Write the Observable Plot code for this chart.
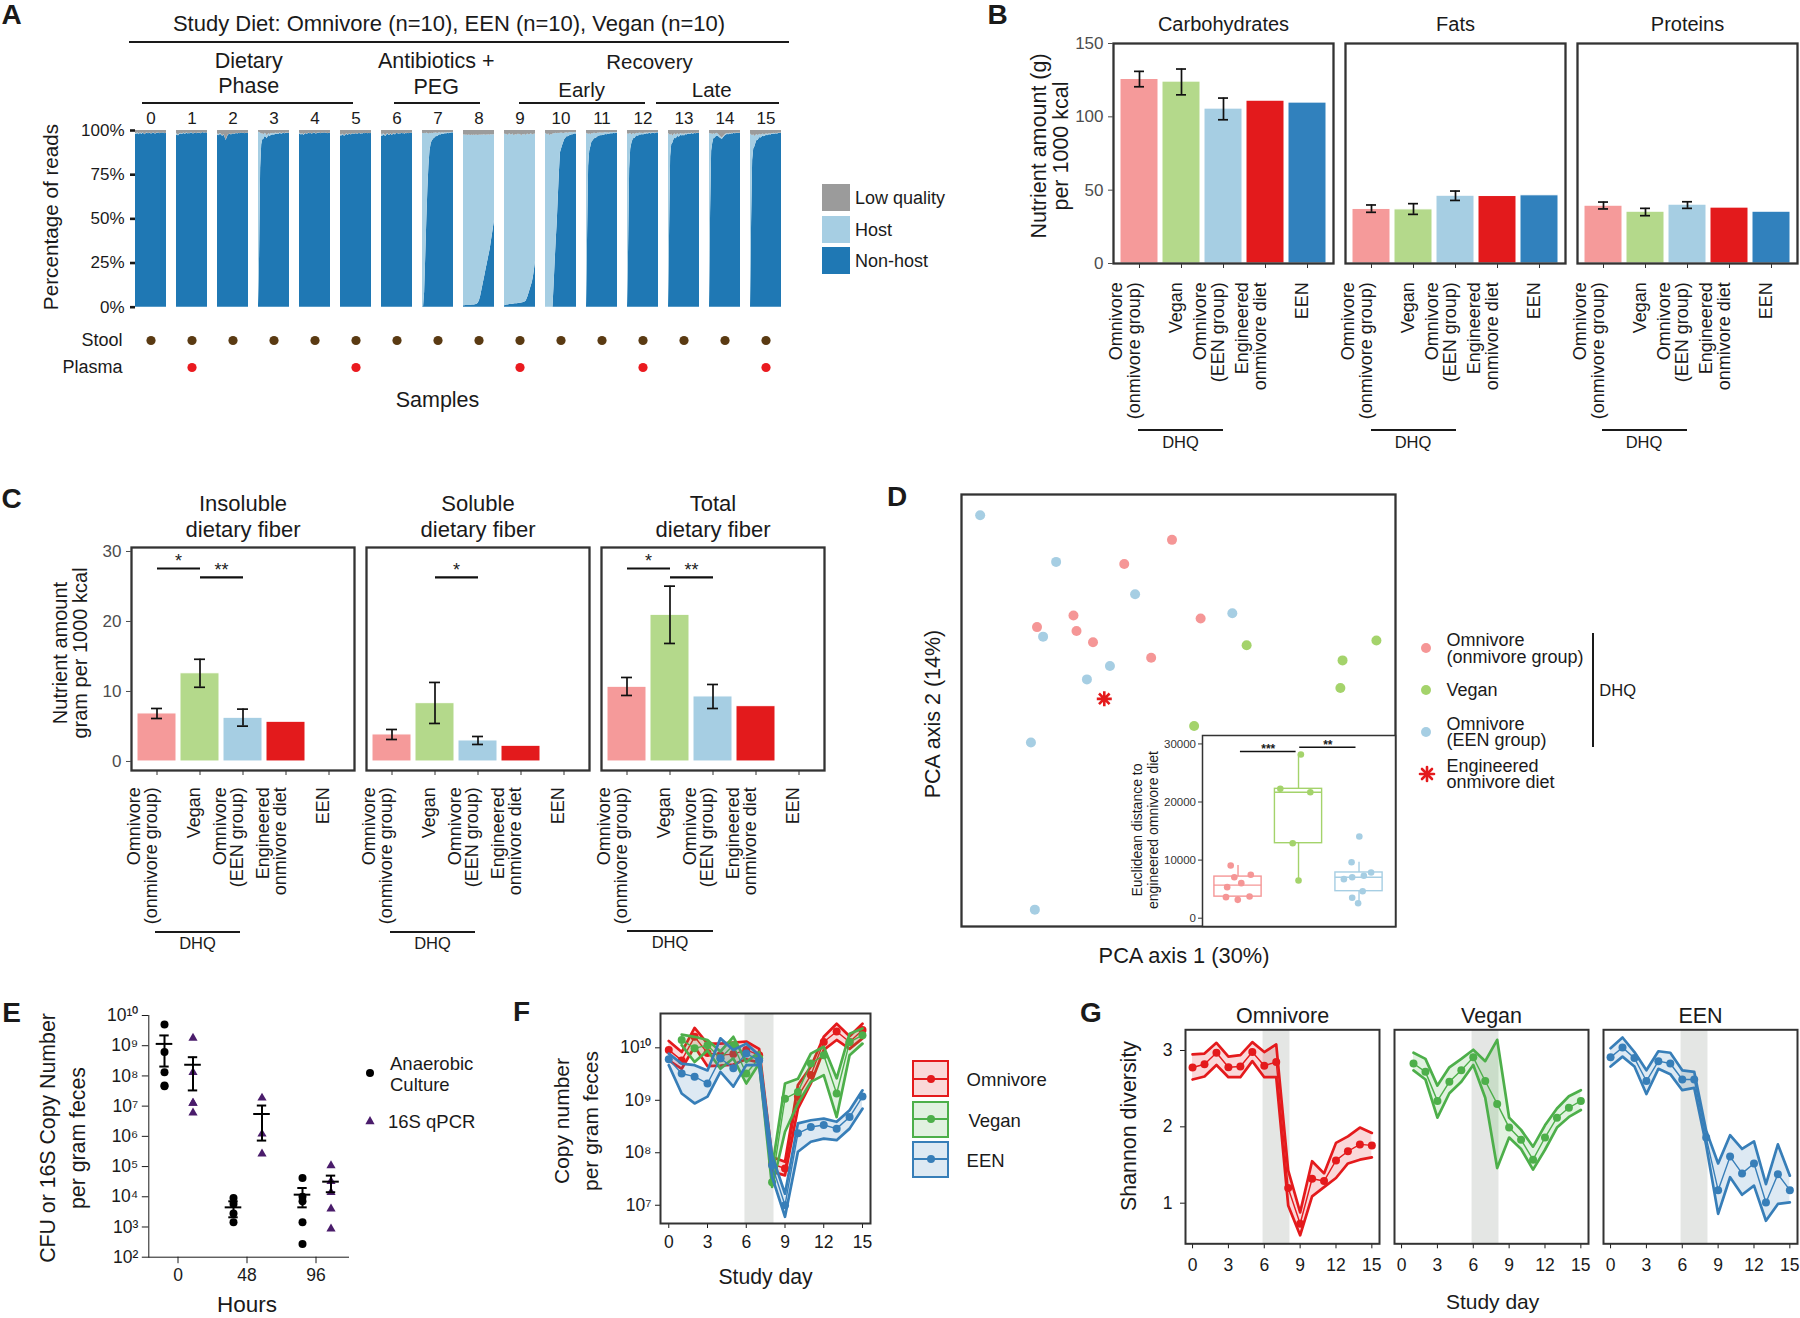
<!DOCTYPE html>
<html lang="en">
<head>
<meta charset="utf-8">
<title>Diet, antibiotics and gut microbiome</title>
<script src="https://cdn.jsdelivr.net/npm/d3@7"></script>
<script src="https://cdn.jsdelivr.net/npm/@observablehq/plot@0.6"></script>
<style>
  html, body { margin: 0; padding: 0; background: #fff; }
  #page { position: relative; width: 1800px; height: 1318px; overflow: hidden; background: #fff;
          font-family: "Liberation Sans", Arial, Helvetica, sans-serif; color: #1a1a1a; }
</style>
</head>
<body>
<div id="page"></div>
<script>
// ======================= DATA =======================
// ---- Panel A: reads per sample, 30 samples per study day, sorted ----
const sampleDays = [0, 1, 2, 3, 4, 5, 6, 7, 8, 9, 10, 11, 12, 13, 14, 15];
const readTypes = ["Low quality", "Host", "Non-host"];
const readColors = ["#9b9b9b", "#a6cee3", "#1f78b4"];
// % host reads for each of the 30 samples of each day
const hostPct = [
  [0.6,0.5,0.4,0.4,0.3,0.3,0.3,0.2,0.2,0.2,0.2,0.2,0.1,0.1,0.1,0.1,0.1,0.1,0.1,0.1,0.1,0.1,0.1,0.1,0.1,0,0,0,0,0],
  [0.9,0.6,0.5,0.4,0.4,0.3,0.3,0.3,0.2,0.2,0.2,0.2,0.2,0.1,0.1,0.1,0.1,0.1,0.1,0.1,0.1,0.1,0.1,0.1,0,0,0,0,0,0],
  [0.8,0.6,0.5,0.4,0.3,0.3,0.3,0.2,0.2,0.2,0.2,0.1,0.1,0.1,0.1,0.1,0.1,0.1,0.1,0.1,0.1,0.1,0,0,0,0,0,0,0,0],
  [98,70,20,6,3.5,2.5,2,1.8,1.6,1.4,1.2,1.1,1,0.9,0.8,0.7,0.6,0.5,0.5,0.4,0.4,0.3,0.3,0.3,0.2,0.2,0.2,0.1,0.1,0.1],
  [0.5,0.4,0.4,0.3,0.3,0.3,0.2,0.2,0.2,0.2,0.1,0.1,0.1,0.1,0.1,0.1,0.1,0.1,0.1,0.1,0.1,0,0,0,0,0,0,0,0,0],
  [0.7,0.5,0.4,0.3,0.3,0.3,0.2,0.2,0.2,0.2,0.2,0.1,0.1,0.1,0.1,0.1,0.1,0.1,0.1,0.1,0.1,0.1,0,0,0,0,0,0,0,0],
  [1.2,0.8,0.6,0.5,0.4,0.4,0.3,0.3,0.3,0.2,0.2,0.2,0.2,0.2,0.1,0.1,0.1,0.1,0.1,0.1,0.1,0.1,0.1,0.1,0.1,0,0,0,0,0],
  [98.3,97.9,90,70,50,32,18,10,6,4.5,3.5,3,2.5,2,1.8,1.5,1.2,1,0.9,0.8,0.7,0.6,0.5,0.5,0.4,0.4,0.3,0.3,0.2,0.2],
  [96.7,96.6,96.4,96.6,96.2,96.5,96.3,96.1,96.3,95.9,96.2,95.8,96.0,95.5,94.7,93.5,91.3,88.5,85.3,82.6,79.4,76.3,73.5,70.4,67.6,64.3,60.7,56.4,52.6,48.6],
  [97.2,96.7,96.7,95.9,96.4,96.6,95.9,96,96.3,95.2,95.6,95.8,95.3,95.9,95.4,95.6,94.4,95.2,94.7,95,94,93.3,92,89.5,87.7,86.1,83.8,80.4,77,71.9],
  [98.5,98,97.5,98.2,97,97.8,97.4,98,86,73,61,50,36,22,11,9,7,5,3.5,3,2.2,2,1.8,1.6,1.4,1.2,1,0.9,0.8,0.7],
  [98.4,58,18,10,7,5,4,3.5,3,2.6,2.3,2,1.8,1.6,1.5,1.4,1.3,1.2,1.1,1,0.9,0.8,0.8,0.7,0.6,0.6,0.5,0.5,0.4,0.4],
  [98.2,65,20,9,5,3.5,2.8,2.2,1.8,1.5,1.3,1.2,1,0.9,0.8,0.8,0.7,0.6,0.6,0.5,0.5,0.4,0.4,0.4,0.3,0.3,0.3,0.2,0.2,0.2],
  [98.3,55,12,6,4,3,2.5,2,1.8,1.5,1.3,1.1,1,0.9,0.8,0.7,0.6,0.6,0.5,0.5,0.4,0.4,0.3,0.3,0.3,0.2,0.2,0.2,0.1,0.1],
  [98.4,45,10,5,3,2.2,1.8,1.5,1.3,1.1,1,0.9,0.8,0.7,0.6,0.6,0.5,0.5,0.4,0.4,0.3,0.3,0.3,0.2,0.2,0.2,0.1,0.1,0.1,0.1],
  [98,50,14,8,6,4.5,3.5,2.8,2.2,1.8,1.5,1.3,1.1,1,0.9,0.8,0.7,0.6,0.6,0.5,0.5,0.4,0.4,0.3,0.3,0.3,0.2,0.2,0.2,0.1]
];
// % low-quality reads for the same samples
const lowQualPct = [
  [1.5,1.8,1.2,2,1.6,1.4,1.9,1.3,1.7,2.2,1.5,1.2,1.8,1.6,1.4,2,1.5,1.3,1.7,1.9,1.4,1.6,1.2,1.8,1.5,1.7,1.3,1.6,1.9,1.4],
  [1.6,2.2,2.5,1.8,1.5,2,1.7,1.4,1.9,1.6,1.3,1.8,1.5,1.7,1.2,1.6,1.9,1.4,1.5,1.8,1.3,1.6,1.4,1.7,1.5,1.2,1.6,1.4,1.3,1.5],
  [1.8,2.4,2,1.7,2.6,3,2.2,3.5,5.5,4,2.5,2.2,1.9,2.4,2,1.8,2.1,1.7,1.6,1.9,1.5,1.8,1.4,1.7,1.6,1.5,1.9,1.4,1.6,1.5],
  [1,1.2,1.5,2,1.8,2.5,1.6,1.9,3,2.2,1.7,2.4,1.5,1.8,1.6,2,1.4,1.7,1.5,1.9,1.3,1.6,1.8,1.4,1.5,1.7,1.3,1.6,1.4,1.5],
  [1.4,1.8,2.2,1.6,2.5,1.9,1.5,2.1,1.7,1.4,1.8,1.6,2,1.5,1.3,1.7,1.9,1.4,1.6,1.2,1.8,1.5,1.4,1.7,1.3,1.6,1.5,1.8,1.4,1.6],
  [2.2,2.8,2,2.5,3,2.3,1.9,2.6,2.1,1.8,2.4,2,1.7,2.2,1.9,1.6,2.1,1.8,1.5,2,1.7,1.9,1.6,1.8,1.5,1.7,1.9,1.6,1.8,1.5],
  [2,2.6,1.8,2.3,3,2.1,1.7,2.5,2.2,1.9,2.7,2,1.6,2.3,1.8,1.5,2,1.7,1.9,1.5,1.8,1.6,2,1.4,1.7,1.5,1.8,1.6,1.4,1.7],
  [1.5,1.8,1.6,1.9,1.4,1.7,2.1,1.6,1.9,1.5,1.8,1.4,1.6,1.3,1.7,1.5,1.2,1.6,1.4,1.3,1.5,1.2,1.4,1.3,1.1,1.4,1.2,1.3,1.1,1.2],
  [2.5,2.6,2.7,2.5,2.8,2.5,2.7,2.9,2.5,2.9,2.5,2.8,2.5,2.7,2.8,2.5,2.7,2.5,2.7,2.4,2.6,2.7,2.5,2.6,2.4,2.7,2.3,2.6,2.4,2.4],
  [2,2.3,2.1,2.8,2.2,1.9,2.6,2.4,2,3,2.5,2.2,2.7,2,2.4,2.1,3.2,2.3,2.6,2.1,2.8,2.2,2,2.5,2.3,1.9,2.2,2.6,2,2.1],
  [1.5,2,2.5,1.8,3,2.2,2.6,2,1.9,1.7,1.6,1.8,1.5,1.7,1.6,1.4,1.5,1.8,1.6,1.4,1.3,1.5,1.4,1.2,1.3,1.2,1.4,1.1,1.2,1.3],
  [1.6,1.8,2.2,1.9,2.4,1.7,2,1.6,1.5,1.8,1.7,1.4,1.6,1.3,1.5,1.4,1.6,1.3,1.2,1.4,1.3,1.5,1.2,1.1,1.3,1.2,1.1,1.3,1.2,1.1],
  [1.8,2.2,1.9,1.6,2.5,2,1.7,2.3,1.8,1.5,1.9,1.6,1.4,1.7,1.5,1.8,1.4,1.6,1.3,1.5,1.4,1.2,1.6,1.3,1.4,1.2,1.5,1.3,1.1,1.2],
  [1.7,2.3,2.8,2,3.2,2.4,1.9,2.7,2.1,1.8,2.5,2,1.7,2.2,1.9,2.4,1.6,2,1.8,1.5,1.9,1.7,1.4,1.8,1.6,1.5,1.7,1.4,1.6,1.5],
  [1.6,2,1.8,2.4,1.7,2.2,1.9,1.6,2,2.6,3.2,3.8,4.2,3.6,2.8,2.2,1.9,1.7,2,1.6,1.8,1.5,1.7,1.4,1.6,1.5,1.3,1.6,1.4,1.5],
  [2,2.6,3,2.4,3.4,2.8,2.2,2.9,2.5,2.1,2.7,2.3,2,2.5,2.2,1.9,2.3,2,1.8,2.1,1.7,1.9,1.6,1.8,1.5,1.7,1.6,1.4,1.5,1.6]
];
const stoolDays = [0, 1, 2, 3, 4, 5, 6, 7, 8, 9, 10, 11, 12, 13, 14, 15];
const plasmaDays = [1, 5, 9, 12, 15];

// ---- Panels B & C: nutrient amounts per 1000 kcal ----
const dietKeys = ["omni", "vegan", "omniEEN", "eng", "een"];
const dietTickLabels = ["Omnivore\n(onmivore group)", "Vegan", "Omnivore\n(EEN group)", "Engineered\nonmivore diet", "EEN"];
const dietBarColors = ["#f59a9a", "#b4d98b", "#a6cee3", "#e31a1c", "#3181bd"];
const nutrients = ["Carbohydrates", "Fats", "Proteins"];
const carbMean = [125.8, 124.0, 105.6, 111.0, 109.7];
const carbLo = [120.5, 115.0, 98.0];
const carbHi = [131.0, 132.6, 112.8];
const fatMean = [37.2, 36.9, 46.2, 46.0, 46.5];
const fatLo = [34.9, 33.5, 43.0];
const fatHi = [39.9, 40.8, 49.4];
const protMean = [39.4, 35.3, 40.1, 38.1, 35.3];
const protLo = [37.2, 32.6, 37.6];
const protHi = [41.9, 37.6, 42.1];

const fibers = ["Insoluble", "Soluble", "Total"];
const fiberTitles = ["Insoluble\ndietary fiber", "Soluble\ndietary fiber", "Total\ndietary fiber"];
const insolMean = [6.86, 12.6, 6.24, 5.67, 0];
const insolLo = [6.14, 10.6, 5.05];
const insolHi = [7.57, 14.6, 7.48];
const solMean = [3.86, 8.33, 3.0, 2.24, 0];
const solLo = [3.14, 5.43, 2.43];
const solHi = [4.57, 11.29, 3.57];
const totMean = [10.67, 20.95, 9.29, 7.9, 0];
const totLo = [9.43, 16.86, 7.57];
const totHi = [12.0, 25.05, 11.0];
const fiberSigFacet = ["Insoluble", "Insoluble", "Soluble", "Total", "Total"];
const fiberSigFrom = ["omni", "vegan", "vegan", "omni", "vegan"];
const fiberSigTo = ["vegan", "omniEEN", "omniEEN", "vegan", "omniEEN"];
const fiberSigY = [27.57, 26.29, 26.29, 27.57, 26.29];
const fiberSigLabel = ["*", "**", "*", "*", "**"];

// ---- Panel D: PCA of diets + distance inset ----
const pcaGroups = ["omni", "vegan", "omniEEN"];
const pcaColors = ["#f59696", "#a4d36b", "#a6cee3"];
const pcaOmniX = [48.5, 37.5, 25.8, 17.4, 26.5, 30.3, 55.1, 43.7];
const pcaOmniY = [89.5, 83.9, 72.0, 69.3, 68.4, 65.8, 71.3, 62.2];
const pcaVeganX = [65.7, 95.6, 87.8, 87.3, 53.6];
const pcaVeganY = [65.1, 66.2, 61.6, 55.2, 46.4];
const pcaEENX = [4.3, 21.8, 40.0, 62.4, 18.8, 34.2, 28.9, 16.0, 16.9];
const pcaEENY = [95.2, 84.4, 76.9, 72.5, 67.1, 60.3, 57.2, 42.6, 3.9];
const pcaEngX = [32.9];
const pcaEngY = [52.7];
const distOmni = [9070, 7060, 7470, 5340, 6030, 3740, 3620, 3160];
const distVegan = [28170, 22270, 21690, 12910, 6490];
const distEEN = [14060, 9640, 7870, 6720, 7060, 7300, 4650, 3510, 2580];
const jitterOmni = [0.879, 0.939, 1.211, 0.821, 1.054, 1.191, 0.801, 0.996];
const jitterVegan = [2.039, 1.699, 2.195, 1.904, 2.0];
const jitterEEN = [3.005, 2.877, 3.20, 2.75, 2.887, 3.08, 3.06, 2.887, 2.985];
const distSigFrom = [1.04, 2.02];
const distSigTo = [1.96, 2.95];
const distSigY = [28690, 29430];
const distSigLabel = ["***", "**"];

// ---- Panel E: bacterial load after antibiotics (log10 values) ----
const hours = ["0", "48", "96"];
const cultureExp = [[9.70, 8.79, 8.12, 7.66, 7.68], [3.96, 3.76, 3.45, 3.16], [4.62, 3.85, 4.00, 3.16, 2.44]];
const qpcrExp = [[9.25, 8.12, 7.10, 7.10, 6.78], [7.27, 6.08, 5.42], [5.03, 4.51, 4.15, 3.60, 2.94]];
const cultureMeanExp = [9.06, 3.65, 4.07];
const cultureLoExp = [8.31, 3.32, 3.65];
const cultureHiExp = [9.34, 3.85, 4.29];
const qpcrMeanExp = [8.37, 6.74, 4.50];
const qpcrLoExp = [7.52, 5.86, 4.15];
const qpcrHiExp = [8.62, 7.02, 4.70];

// ---- Panels F & G: time courses by diet ----
const studyDays = [0, 1, 2, 3, 4, 5, 6, 7, 8, 9, 10, 11, 12, 13, 14, 15];
const diets3 = ["Omnivore", "Vegan", "EEN"];
const dietLineColors = ["#e41a1c", "#4daf4a", "#377eb8"];
const shadeStart = [5.9];
const shadeEnd = [8.15];
// F: log10 copy number per gram feces (mean, lower, upper)
const copyOmniMean = [9.96, 9.76, 10.21, 9.90, 9.86, 9.88, 9.96, 9.86, 7.79, 7.70, 9.07, 9.48, 10.11, 10.31, 10.11, 10.34];
const copyOmniLo   = [9.76, 9.60, 10.02, 9.65, 9.66, 9.68, 9.78, 9.72, 7.64, 7.57, 8.84, 9.32, 9.96, 10.15, 9.98, 10.18];
const copyOmniHi   = [10.13, 9.92, 10.38, 10.08, 10.08, 10.10, 10.12, 9.98, 7.92, 7.83, 9.29, 9.64, 10.21, 10.46, 10.22, 10.46];
const copyVeganMean = [null, 10.15, 9.99, 10.05, 9.80, 10.05, 9.51, 9.80, 7.44, 9.03, 9.16, 9.70, 9.86, 9.13, 10.11, 10.24];
const copyVeganLo   = [null, 10.05, 9.73, 9.95, 9.60, 9.80, 9.32, 9.70, 7.35, 8.40, 8.94, 9.35, 9.48, 8.68, 9.86, 10.08];
const copyVeganHi   = [null, 10.25, 10.21, 10.15, 9.93, 10.21, 9.73, 9.92, 7.70, 9.32, 9.41, 9.89, 10.02, 9.42, 10.27, 10.37];
const copyEENMean = [9.78, 9.51, 9.45, 9.32, 9.80, 9.61, 9.89, 9.76, 7.76, 7.00, 8.37, 8.49, 8.53, 8.46, 8.68, 9.07];
const copyEENLo   = [9.67, 9.13, 8.94, 9.07, 9.54, 9.26, 9.67, 9.67, 7.54, 6.78, 8.02, 8.21, 8.27, 8.24, 8.46, 8.84];
const copyEENHi   = [9.89, 9.70, 9.67, 9.57, 10.18, 9.96, 10.08, 9.86, 7.95, 7.22, 8.56, 8.62, 8.65, 8.59, 8.81, 9.19];
// G: Shannon diversity (mean, lower, upper)
const shanOmniMean = [2.777, 2.82, 2.97, 2.78, 2.79, 2.98, 2.80, 2.85, 1.20, 0.73, 1.32, 1.29, 1.56, 1.68, 1.77, 1.757];
const shanOmniLo   = [2.62, 2.66, 2.81, 2.65, 2.65, 2.86, 2.65, 2.65, 0.97, 0.58, 1.09, 1.21, 1.33, 1.52, 1.57, 1.60];
const shanOmniHi   = [2.95, 2.96, 3.10, 2.92, 2.94, 3.11, 2.98, 3.08, 1.43, 0.88, 1.55, 1.39, 1.79, 1.875, 1.99, 1.92];
const shanVeganMean = [null, 2.83, 2.72, 2.34, 2.59, 2.74, 2.91, 2.60, 2.30, 1.99, 1.83, 1.57, 1.86, 2.12, 2.25, 2.34];
const shanVeganLo   = [null, 2.74, 2.62, 2.12, 2.44, 2.59, 2.81, 2.38, 1.46, 1.86, 1.71, 1.44, 1.70, 1.99, 2.13, 2.22];
const shanVeganHi   = [null, 2.97, 2.89, 2.54, 2.78, 2.89, 3.01, 2.86, 3.14, 2.12, 1.96, 1.74, 2.02, 2.24, 2.40, 2.48];
const shanEENMean = [2.91, 3.04, 2.90, 2.60, 2.86, 2.83, 2.62, 2.62, 1.86, 1.17, 1.61, 1.39, 1.52, 1.01, 1.38, 1.17];
const shanEENLo   = [2.79, 2.92, 2.79, 2.43, 2.76, 2.69, 2.48, 2.51, 1.76, 0.86, 1.34, 1.11, 1.23, 0.77, 0.99, 1.01];
const shanEENHi   = [3.03, 3.17, 2.98, 2.74, 2.99, 2.97, 2.74, 2.72, 1.95, 1.52, 1.89, 1.71, 1.81, 1.25, 1.77, 1.36];

// ======================= HELPERS =======================
const FONT = '"Liberation Sans", Arial, Helvetica, sans-serif';
const page = document.getElementById("page");
function baseStyle(size) {
  return {fontFamily: FONT, fontSize: size + "px", color: "#1a1a1a", background: "transparent", overflow: "visible"};
}
function place(node, left, top) {
  node.style.position = "absolute";
  node.style.left = left + "px";
  node.style.top = top + "px";
  page.appendChild(node);
  return node;
}
function label(html, x, y, size, opt = {}) {
  const d = document.createElement("div");
  d.innerHTML = html;
  d.style.position = "absolute";
  d.style.left = x + "px";
  d.style.top = y + "px";
  d.style.fontSize = size + "px";
  d.style.lineHeight = (opt.lh || Math.round(size * 1.15)) + "px";
  d.style.whiteSpace = "nowrap";
  d.style.textAlign = opt.align || "center";
  d.style.fontWeight = opt.bold ? "bold" : "normal";
  d.style.color = opt.color || "#1a1a1a";
  const a = opt.anchor || "middle";
  const tx = a === "start" ? "0%" : a === "end" ? "-100%" : "-50%";
  d.style.transform = `translate(${tx}, -50%)` + (opt.rotate ? ` rotate(${opt.rotate}deg)` : "");
  page.appendChild(d);
  return d;
}
function hline(x1, x2, y, w = 2.4, color = "#1a1a1a") {
  const d = document.createElement("div");
  Object.assign(d.style, {position: "absolute", left: x1 + "px", top: (y - w / 2) + "px", width: (x2 - x1) + "px", height: w + "px", background: color});
  page.appendChild(d);
}
function vline(x, y1, y2, w = 2.2, color = "#1a1a1a") {
  const d = document.createElement("div");
  Object.assign(d.style, {position: "absolute", left: (x - w / 2) + "px", top: y1 + "px", width: w + "px", height: (y2 - y1) + "px", background: color});
  page.appendChild(d);
}
function box(x, y, w, h, css) {
  const d = document.createElement("div");
  Object.assign(d.style, {position: "absolute", left: x + "px", top: y + "px", width: w + "px", height: h + "px", boxSizing: "border-box"}, css);
  page.appendChild(d);
  return d;
}
const SUP = {"0": "⁰", "1": "¹", "2": "²", "3": "³", "4": "⁴", "5": "⁵", "6": "⁶", "7": "⁷", "8": "⁸", "9": "⁹"};
const pow10 = (d) => "10" + String(Math.round(Math.log10(d))).split("").map((c) => SUP[c]).join("");
const dietLabelOf = Object.fromEntries(dietKeys.map((k, i) => [k, dietTickLabels[i]]));
function letter(ch, x, y) { label(ch, x, y, 28, {bold: true, lh: 24}); }

// ======================= PANEL A =======================
const readsTable = [];
sampleDays.forEach((day, i) => {
  hostPct[i].forEach((h, r) => {
    const q = lowQualPct[i][r];
    readsTable.push({day, rank: r, type: "Non-host", value: Math.max(0, 100 - h - q)});
    readsTable.push({day, rank: r, type: "Host", value: h});
    readsTable.push({day, rank: r, type: "Low quality", value: q});
  });
});
const plotA = Plot.plot({
  width: 800, height: 215,
  marginLeft: 127.3, marginRight: 10.7, marginTop: 30, marginBottom: 8.3,
  style: baseStyle(17),
  fx: {domain: sampleDays, paddingInner: 0.238, paddingOuter: 0, axis: null},
  x: {domain: [0, 29], axis: null},
  y: {domain: [0, 100]},
  color: {domain: readTypes, range: readColors},
  marks: [
    Plot.areaY(readsTable, {fx: "day", x: "rank", y: "value", fill: "type", order: ["Non-host", "Host", "Low quality"]}),
    Plot.text(sampleDays, {fx: (d) => d, text: (d) => String(d), frameAnchor: "top", dy: -6.5, lineAnchor: "bottom", fontSize: 17}),
    Plot.axisY({ticks: [0, 25, 50, 75, 100], tickFormat: (d) => d + "%", tickSize: 5, tickPadding: 6, strokeWidth: 2.6, label: null, fontSize: 17})
  ]
});
place(plotA, 0, 100);

const sampleTable = [
  ...stoolDays.map((day) => ({day, kind: "Stool"})),
  ...plasmaDays.map((day) => ({day, kind: "Plasma"}))
];
const plotAdots = Plot.plot({
  width: 800, height: 60,
  marginLeft: 127.3, marginRight: 10.7, marginTop: 14.3, marginBottom: 18.3,
  style: baseStyle(18),
  fx: {domain: sampleDays, paddingInner: 0.238, paddingOuter: 0, axis: null},
  y: {type: "point", domain: ["Stool", "Plasma"], padding: 0, label: null, tickSize: 0, tickPadding: 13},
  color: {domain: ["Stool", "Plasma"], range: ["#5a3a12", "#ea1a1f"]},
  marks: [Plot.dot(sampleTable, {fx: "day", y: "kind", fill: "kind", r: 4.6})]
});
place(plotAdots, 0, 325);

letter("A", 11.5, 14.5);
label("Study Diet: Omnivore (n=10), EEN (n=10), Vegan (n=10)", 449, 22.7, 22);
hline(129, 789, 42, 2.6);
label("Dietary<br>Phase", 248.7, 74.5, 21.5, {lh: 25.6});
label("Antibiotics +<br>PEG", 436.2, 75, 21.5, {lh: 25.6});
label("Recovery", 649.5, 62, 20.5);
label("Early", 581.6, 90, 20.5);
label("Late", 711.7, 90, 20.5);
hline(141.8, 353, 102.8, 2.4);
hline(393.9, 479.6, 102.8, 2.4);
hline(519.4, 645.4, 102.8, 2.4);
hline(655.6, 779, 102.8, 2.4);
label("Percentage of reads", 51, 217, 20.7, {rotate: -90});
label("Samples", 437.5, 400, 21.5);
// legend A
[["Low quality", readColors[0], 184], ["Host", readColors[1], 216], ["Non-host", readColors[2], 247]].forEach(([t, c, y]) => {
  box(822, y, 28, 27, {background: c});
  label(t, 855, y + 13.5, 18, {anchor: "start"});
});

// ======================= PANEL B =======================
const nutrTable = [];
const nutrErr = [];
[[carbMean, carbLo, carbHi], [fatMean, fatLo, fatHi], [protMean, protLo, protHi]].forEach(([m, lo, hi], j) => {
  dietKeys.forEach((k, i) => {
    nutrTable.push({nutrient: nutrients[j], diet: k, value: m[i]});
    if (i < lo.length) nutrErr.push({nutrient: nutrients[j], diet: k, lo: lo[i], hi: hi[i]});
  });
});
const plotB = Plot.plot({
  width: 800, height: 460,
  marginLeft: 112, marginRight: 2, marginTop: 43, marginBottom: 197,
  style: baseStyle(17),
  fx: {domain: nutrients, paddingInner: 0.05, paddingOuter: 0, axis: null},
  x: {domain: dietKeys, paddingInner: 0.1, paddingOuter: 0.14},
  y: {domain: [0, 150]},
  color: {domain: dietKeys, range: dietBarColors},
  marks: [
    Plot.barY(nutrTable, {fx: "nutrient", x: "diet", y: "value", fill: "diet", stroke: "#fff", strokeWidth: 1}),
    Plot.ruleX(nutrErr, {fx: "nutrient", x: "diet", y1: "lo", y2: "hi", stroke: "#111", strokeWidth: 1.7}),
    Plot.tickY(nutrErr, {fx: "nutrient", x: "diet", y: "lo", stroke: "#111", strokeWidth: 1.7, insetLeft: 14, insetRight: 14}),
    Plot.tickY(nutrErr, {fx: "nutrient", x: "diet", y: "hi", stroke: "#111", strokeWidth: 1.7, insetLeft: 14, insetRight: 14}),
    Plot.frame({stroke: "#333", strokeWidth: 2.3}),
    Plot.axisY({ticks: [0, 50, 100, 150], tickSize: 5, tickPadding: 5, label: null, color: "#4d4d4d", fontSize: 17}),
    Plot.axisX({tickSize: 5, tickFormat: () => "", label: null, color: "#333"}),
    Plot.text(dietKeys, {x: (d) => d, text: (d) => dietLabelOf[d], frameAnchor: "bottom", rotate: -90, textAnchor: "end", dy: 18.7, lineHeight: 0.95, fontSize: 18}),
    Plot.text(nutrients, {fx: (d) => d, text: (d) => d, frameAnchor: "top", dy: -12.8, lineAnchor: "bottom", fontSize: 20})
  ]
});
place(plotB, 1000, 0);
letter("B", 997.5, 15);
label("Nutrient amount (g)<br>per 1000 kcal", 1050, 146, 21.5, {rotate: -90, lh: 22});
[[1138, 1223, 1180.5], [1370.7, 1455.7, 1413], [1601.5, 1686.5, 1644]].forEach(([a, b, c]) => {
  hline(a, b, 430, 2.7);
  label("DHQ", c, 441.5, 16.5);
});

// ======================= PANEL C =======================
const fiberTable = [];
const fiberErr = [];
[[insolMean, insolLo, insolHi], [solMean, solLo, solHi], [totMean, totLo, totHi]].forEach(([m, lo, hi], j) => {
  dietKeys.forEach((k, i) => {
    fiberTable.push({fiber: fibers[j], diet: k, value: m[i]});
    if (i < lo.length) fiberErr.push({fiber: fibers[j], diet: k, lo: lo[i], hi: hi[i]});
  });
});
const fiberSig = fiberSigFacet.map((f, i) => ({fiber: f, a: fiberSigFrom[i], b: fiberSigTo[i], y: fiberSigY[i], lab: fiberSigLabel[i]}));
const fiberTitleOf = Object.fromEntries(fibers.map((f, i) => [f, fiberTitles[i]]));
const plotC = Plot.plot({
  width: 900, height: 470,
  marginLeft: 131, marginRight: 75, marginTop: 67, marginBottom: 180,
  style: baseStyle(17),
  fx: {domain: fibers, paddingInner: 0.049, paddingOuter: 0, axis: null},
  x: {domain: dietKeys, paddingInner: 0.1, paddingOuter: 0.14},
  y: {domain: [-1.29, 30.57]},
  color: {domain: dietKeys, range: dietBarColors},
  marks: [
    Plot.barY(fiberTable, {fx: "fiber", x: "diet", y: "value", fill: "diet", stroke: "#fff", strokeWidth: 1}),
    Plot.ruleX(fiberErr, {fx: "fiber", x: "diet", y1: "lo", y2: "hi", stroke: "#111", strokeWidth: 1.7}),
    Plot.tickY(fiberErr, {fx: "fiber", x: "diet", y: "lo", stroke: "#111", strokeWidth: 1.7, insetLeft: 14, insetRight: 14}),
    Plot.tickY(fiberErr, {fx: "fiber", x: "diet", y: "hi", stroke: "#111", strokeWidth: 1.7, insetLeft: 14, insetRight: 14}),
    Plot.link(fiberSig, {fx: "fiber", x1: "a", x2: "b", y1: "y", y2: "y", stroke: "#111", strokeWidth: 2.2}),
    Plot.text(fiberSig, {fx: "fiber", x: "a", y: "y", text: "lab", dx: 21.6, dy: -1, lineAnchor: "bottom", fontSize: 18}),
    Plot.frame({stroke: "#333", strokeWidth: 2.3}),
    Plot.axisY({ticks: [0, 10, 20, 30], tickSize: 5, tickPadding: 5, label: null, color: "#4d4d4d", fontSize: 17}),
    Plot.axisX({tickSize: 5, tickFormat: () => "", label: null, color: "#333"}),
    Plot.text(dietKeys, {x: (d) => d, text: (d) => dietLabelOf[d], frameAnchor: "bottom", rotate: -90, textAnchor: "end", dy: 16.7, lineHeight: 0.95, fontSize: 18}),
    Plot.text(fibers, {fx: (d) => d, text: (d) => fiberTitleOf[d], frameAnchor: "top", dy: -10.1, lineAnchor: "bottom", lineHeight: 1.18, fontSize: 22})
  ]
});
place(plotC, 0, 480);
letter("C", 11.5, 499);
label("Nutrient amount<br>gram per 1000 kcal", 70.3, 653, 20, {rotate: -90, lh: 20});
[[155, 240, 197.5, 932], [390, 475, 432.5, 932], [627, 713, 670, 931]].forEach(([a, b, c, y]) => {
  hline(a, b, y, 2.7);
  label("DHQ", c, y + 10.5, 16.5);
});

// ======================= PANEL D =======================
const pcaTable = [
  ...pcaOmniX.map((x, i) => ({grp: "omni", x, y: pcaOmniY[i]})),
  ...pcaVeganX.map((x, i) => ({grp: "vegan", x, y: pcaVeganY[i]})),
  ...pcaEENX.map((x, i) => ({grp: "omniEEN", x, y: pcaEENY[i]}))
];
const pcaEng = pcaEngX.map((x, i) => ({x, y: pcaEngY[i]}));
const star8 = {
  draw(ctx, size) {
    const r = Math.sqrt(size / Math.PI);
    for (let k = 0; k < 4; ++k) {
      const a = (k * Math.PI) / 4;
      ctx.moveTo(r * Math.cos(a), r * Math.sin(a));
      ctx.lineTo(-r * Math.cos(a), -r * Math.sin(a));
    }
  }
};
const plotD = Plot.plot({
  width: 454, height: 452, margin: 10,
  style: baseStyle(17),
  x: {domain: [0, 100], axis: null},
  y: {domain: [0, 100], axis: null},
  color: {domain: pcaGroups, range: pcaColors},
  marks: [
    Plot.frame({stroke: "#333", strokeWidth: 2.3}),
    Plot.dot(pcaTable, {x: "x", y: "y", fill: "grp", r: 5}),
    Plot.dot(pcaEng, {x: "x", y: "y", symbol: star8, stroke: "#e41a1c", strokeWidth: 2.6, r: 7.5})
  ]
});
place(plotD, 951, 484);

const distTable = [
  ...distOmni.map((v, i) => ({grp: "omni", value: v, jx: jitterOmni[i]})),
  ...distVegan.map((v, i) => ({grp: "vegan", value: v, jx: jitterVegan[i]})),
  ...distEEN.map((v, i) => ({grp: "omniEEN", value: v, jx: jitterEEN[i]}))
];
const distStats = [distOmni, distVegan, distEEN].map((vals, i) => {
  const s = vals.slice().sort(d3.ascending);
  const q1 = d3.quantile(s, 0.25), med = d3.quantile(s, 0.5), q3 = d3.quantile(s, 0.75);
  const iqr = q3 - q1;
  const wlo = d3.min(s.filter((v) => v >= q1 - 1.5 * iqr));
  const whi = d3.max(s.filter((v) => v <= q3 + 1.5 * iqr));
  const g = i + 1;
  return {grp: pcaGroups[i], g, bx1: g - 0.39, bx2: g + 0.39, q1, med, q3, wlo, whi};
});
const distSig = distSigFrom.map((x1, i) => ({x1, x2: distSigTo[i], xm: (x1 + distSigTo[i]) / 2, y: distSigY[i], lab: distSigLabel[i]}));
const plotInset = Plot.plot({
  width: 305, height: 211,
  marginLeft: 102, marginRight: 10, marginTop: 10, marginBottom: 10,
  style: baseStyle(11.5),
  x: {domain: [0.413, 3.603], axis: null},
  y: {domain: [-1430, 31450]},
  color: {domain: pcaGroups, range: pcaColors},
  marks: [
    Plot.frame({fill: "#fff", stroke: "#333", strokeWidth: 1.5}),
    Plot.axisY({ticks: [0, 10000, 20000, 30000], tickFormat: d3.format("d"), tickSize: 4, tickPadding: 2.5, label: null, fontSize: 11.5, color: "#333"}),
    Plot.ruleX(distStats, {x: "g", y1: "wlo", y2: "whi", stroke: "grp", strokeWidth: 1.4}),
    Plot.rect(distStats, {x1: "bx1", x2: "bx2", y1: "q1", y2: "q3", fill: "#fff", stroke: "grp", strokeWidth: 1.4}),
    Plot.ruleY(distStats, {x1: "bx1", x2: "bx2", y: "med", stroke: "grp", strokeWidth: 1.4}),
    Plot.dot(distTable, {x: "jx", y: "value", fill: "grp", r: 3.3}),
    Plot.ruleY(distSig, {x1: "x1", x2: "x2", y: "y", stroke: "#111", strokeWidth: 1.6}),
    Plot.text(distSig, {x: "xm", y: "y", text: "lab", dy: 1.5, lineAnchor: "bottom", fontSize: 12, fontWeight: "bold"})
  ]
});
place(plotInset, 1100, 725);
letter("D", 897, 496.5);
label("PCA axis 2 (14%)", 933, 714, 21.5, {rotate: -90});
label("PCA axis 1 (30%)", 1184, 955, 21.8);
label("Euclidean distance to<br>engineered omnivore diet", 1144.5, 830, 14, {rotate: -90, lh: 16});
// legend D
[[648.3, pcaColors[0], "Omnivore<br>(onmivore group)"], [690, pcaColors[1], "Vegan"], [731.7, pcaColors[2], "Omnivore<br>(EEN group)"]].forEach(([y, c, t]) => {
  box(1421, y - 5, 10, 10, {background: c, borderRadius: "50%"});
  label(t, 1446.5, y, 18, {anchor: "start", align: "left", lh: 16.5});
});
(function () {
  const s = document.createElementNS("http://www.w3.org/2000/svg", "svg");
  s.setAttribute("width", "18"); s.setAttribute("height", "18"); s.setAttribute("viewBox", "-9 -9 18 18");
  s.innerHTML = '<g stroke="#e41a1c" stroke-width="2.6" stroke-linecap="round"><line x1="0" y1="-7" x2="0" y2="7"/><line x1="-7" y1="0" x2="7" y2="0"/><line x1="-5" y1="-5" x2="5" y2="5"/><line x1="-5" y1="5" x2="5" y2="-5"/></g>';
  place(s, 1417.5, 765);
})();
label("Engineered<br>onmivore diet", 1446.5, 773.5, 18, {anchor: "start", align: "left", lh: 16.5});
vline(1593.3, 632.7, 747.3, 2.2);
label("DHQ", 1599.3, 690, 16.5, {anchor: "start"});

// ======================= PANEL E =======================
const cultureTable = [], qpcrTable = [];
hours.forEach((h, i) => {
  cultureExp[i].forEach((e) => cultureTable.push({hour: h, value: 10 ** e}));
  qpcrExp[i].forEach((e) => qpcrTable.push({hour: h, value: 10 ** e}));
});
const cultureStats = hours.map((h, i) => ({hour: h, mean: 10 ** cultureMeanExp[i], lo: 10 ** cultureLoExp[i], hi: 10 ** cultureHiExp[i]}));
const qpcrStats = hours.map((h, i) => ({hour: h, mean: 10 ** qpcrMeanExp[i], lo: 10 ** qpcrLoExp[i], hi: 10 ** qpcrHiExp[i]}));
function errMarks(stats, dx) {
  return [
    Plot.ruleX(stats, {x: "hour", y1: "lo", y2: "hi", dx, stroke: "#000", strokeWidth: 2}),
    Plot.tickY(stats, {x: "hour", y: "mean", dx, stroke: "#000", strokeWidth: 2, insetLeft: 26.2, insetRight: 26.2}),
    Plot.tickY(stats, {x: "hour", y: "lo", dx, stroke: "#000", strokeWidth: 2, insetLeft: 29.8, insetRight: 29.8}),
    Plot.tickY(stats, {x: "hour", y: "hi", dx, stroke: "#000", strokeWidth: 2, insetLeft: 29.8, insetRight: 29.8})
  ];
}
const plotE = Plot.plot({
  width: 520, height: 328,
  marginLeft: 148.3, marginRight: 172, marginTop: 25, marginBottom: 61.3,
  style: baseStyle(17.5),
  x: {type: "band", domain: hours, range: [142, 351], padding: 0, line: true, tickSize: 6.5, tickPadding: 5, label: null},
  y: {type: "log", domain: [1e2, 1e10], ticks: [1e2, 1e3, 1e4, 1e5, 1e6, 1e7, 1e8, 1e9, 1e10], tickFormat: pow10, line: true, tickSize: 6.5, tickPadding: 4, label: null},
  marks: [
    Plot.dot(cultureTable, {x: "hour", y: "value", fill: "#000", r: 4, dx: -13.5}),
    Plot.dot(qpcrTable, {x: "hour", y: "value", symbol: "triangle", fill: "#4a1c6b", r: 3.4, dx: 15}),
    ...errMarks(cultureStats, -13.5),
    ...errMarks(qpcrStats, 15)
  ]
});
place(plotE, 0, 990);
letter("E", 11.5, 1012.5);
label("CFU or 16S Copy Number<br>per gram feces", 63.3, 1138.3, 21.3, {rotate: -90, lh: 30});
label("Hours", 247, 1305, 22.5, {lh: 24});
box(366, 1069, 8, 8, {background: "#000", borderRadius: "50%"});
label("Anaerobic<br>Culture", 390, 1073.5, 18.5, {anchor: "start", align: "left", lh: 21});
(function () {
  const s = document.createElementNS("http://www.w3.org/2000/svg", "svg");
  s.setAttribute("width", "12"); s.setAttribute("height", "12"); s.setAttribute("viewBox", "-6 -6 12 12");
  s.innerHTML = '<polygon points="0,-5 4.6,3.2 -4.6,3.2" fill="#4a1c6b"/>';
  place(s, 364, 1115);
})();
label("16S qPCR", 388, 1120.5, 18.5, {anchor: "start"});

// ======================= PANELS F & G: tables =======================
function seriesTable(diet, mean, lo, hi, toValue) {
  const rows = [];
  studyDays.forEach((d, i) => {
    if (mean[i] == null) return;
    rows.push({diet, day: d, mean: toValue(mean[i]), lo: toValue(lo[i]), hi: toValue(hi[i])});
  });
  return rows;
}
const exp10 = (e) => 10 ** e;
const ident = (v) => v;
const copyTables = [
  seriesTable("Omnivore", copyOmniMean, copyOmniLo, copyOmniHi, exp10),
  seriesTable("Vegan", copyVeganMean, copyVeganLo, copyVeganHi, exp10),
  seriesTable("EEN", copyEENMean, copyEENLo, copyEENHi, exp10)
];
const shanTables = [
  seriesTable("Omnivore", shanOmniMean, shanOmniLo, shanOmniHi, ident),
  seriesTable("Vegan", shanVeganMean, shanVeganLo, shanVeganHi, ident),
  seriesTable("EEN", shanEENMean, shanEENLo, shanEENHi, ident)
];
const shade = shadeStart.map((s, i) => ({start: s, end: shadeEnd[i]}));
function ribbonMarks(rows, color, facet) {
  const fx = facet ? "diet" : undefined;
  return [
    Plot.areaY(rows, {fx, x: "day", y1: "lo", y2: "hi", fill: color, fillOpacity: 0.17}),
    Plot.line(rows, {fx, x: "day", y: "lo", stroke: color, strokeWidth: 2.7}),
    Plot.line(rows, {fx, x: "day", y: "hi", stroke: color, strokeWidth: 2.7}),
    Plot.line(rows, {fx, x: "day", y: "mean", stroke: color, strokeWidth: 1.4}),
    Plot.dot(rows, {fx, x: "day", y: "mean", fill: color, r: 4})
  ];
}

// ======================= PANEL F =======================
const plotF = Plot.plot({
  width: 330, height: 328,
  marginLeft: 100, marginRight: 20, marginTop: 23, marginBottom: 95,
  style: baseStyle(17.5),
  x: {domain: [-0.64, 15.62], ticks: [0, 3, 6, 9, 12, 15], tickSize: 5, tickPadding: 7, label: null},
  y: {type: "log", domain: [10 ** 6.652, 10 ** 10.654], ticks: [1e7, 1e8, 1e9, 1e10], tickFormat: pow10, tickSize: 5, tickPadding: 4, label: null},
  marks: [
    Plot.rect(shade, {x1: "start", x2: "end", fill: "#e4e6e4"}),
    ...copyTables.flatMap((rows, i) => ribbonMarks(rows, dietLineColors[i], false)),
    Plot.frame({stroke: "#333", strokeWidth: 2})
  ]
});
place(plotF, 560, 990);
letter("F", 521.5, 1011.5);
label("Copy number<br>per gram feces", 577, 1121, 21, {rotate: -90, lh: 28.7});
label("Study day", 765.6, 1276.7, 21.2);
diets3.forEach((d, i) => {
  const top = [1060, 1100.5, 1140.5][i];
  const c = dietLineColors[i];
  const fillC = d3.interpolateRgb("#ffffff", c)(0.17);
  box(911.7, top, 37.7, 37.3, {background: fillC, border: `2.6px solid ${c}`});
  box(913, top + 17.6, 35, 2, {background: c});
  box(926.5, top + 14.6, 8, 8, {background: c, borderRadius: "50%"});
  label(d, 966.6 + (i === 1 ? 1.8 : 0), top + 19, 18.5, {anchor: "start"});
});

// ======================= PANEL G =======================
const plotG = Plot.plot({
  width: 700, height: 328,
  marginLeft: 84.5, marginRight: 1.5, marginTop: 39.3, marginBottom: 74.7,
  style: baseStyle(17.5),
  fx: {domain: diets3, paddingInner: 0.0715, paddingOuter: 0, axis: null},
  x: {domain: [-0.59, 15.64], ticks: [0, 3, 6, 9, 12, 15], tickSize: 5, tickPadding: 10, label: null},
  y: {domain: [0.468, 3.271], ticks: [1, 2, 3], tickFormat: d3.format("d"), tickSize: 5, tickPadding: 8, label: null},
  marks: [
    Plot.rect(shade, {x1: "start", x2: "end", fill: "#e4e6e4"}),
    ...shanTables.flatMap((rows, i) => ribbonMarks(rows, dietLineColors[i], true)),
    Plot.frame({stroke: "#333", strokeWidth: 2}),
    Plot.text(diets3, {fx: (d) => d, text: (d) => d, frameAnchor: "top", dy: -6.6, lineAnchor: "bottom", fontSize: 21.5})
  ]
});
place(plotG, 1100, 990);
letter("G", 1091, 1013);
label("Shannon diversity", 1128.8, 1126, 21.4, {rotate: -90});
label("Study day", 1492.6, 1301.7, 21);
</script>
</body>
</html>
